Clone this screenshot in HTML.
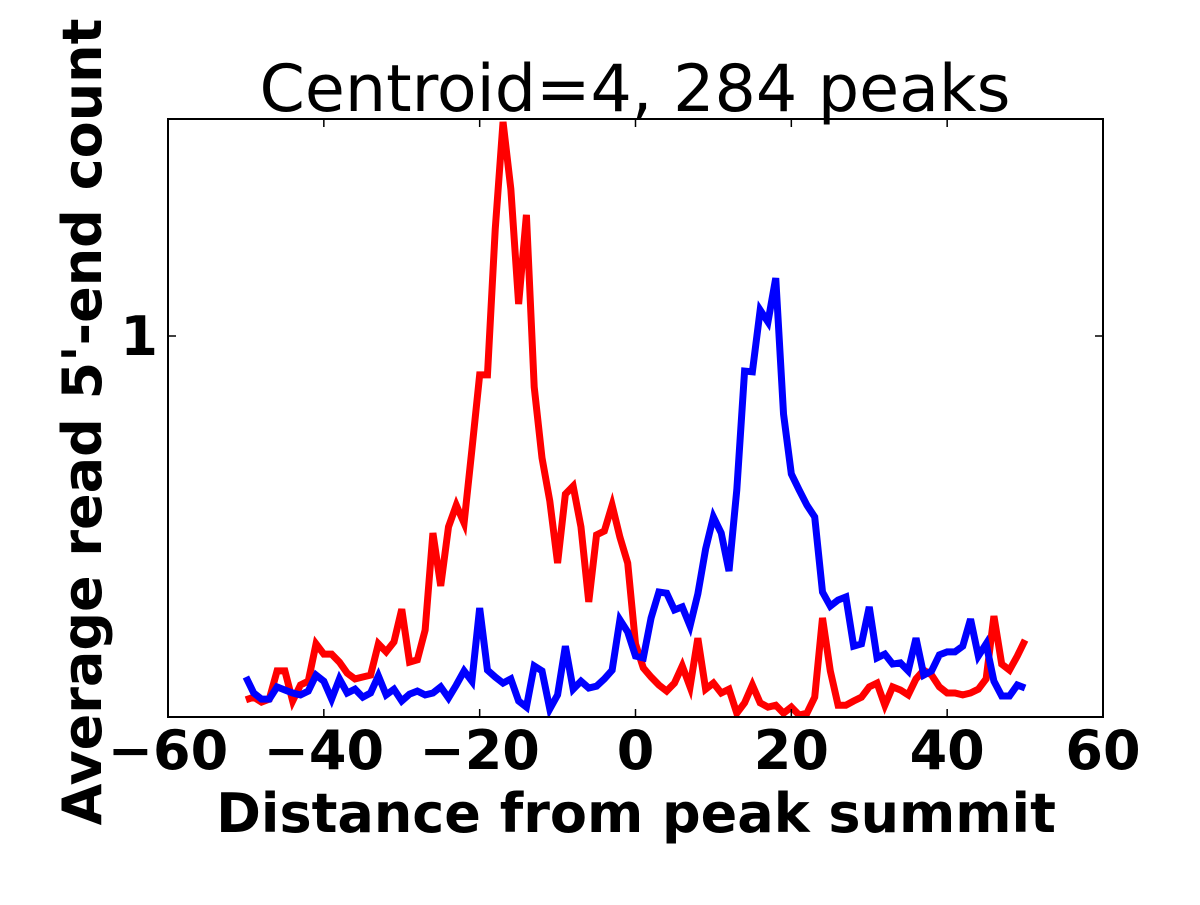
<!DOCTYPE html>
<html><head><meta charset="utf-8"><style>
body{margin:0;background:#fff;}
svg text{font-family:"DejaVu Sans","Liberation Sans",sans-serif;}
</style></head><body>
<svg id="chart" width="1200" height="900" xmlns="http://www.w3.org/2000/svg">
<rect width="1200" height="900" fill="#fff"/>
<text x="635" y="111" font-size="65" text-anchor="middle">Centroid=4, 284 peaks</text>
<defs><clipPath id="pc"><rect x="168" y="119" width="935" height="598"/></clipPath></defs>
<g id="lines" clip-path="url(#pc)"></g>
<rect x="168" y="119" width="935" height="598" fill="none" stroke="#000" stroke-width="2"/>
<g id="ticks"></g>
<text x="636" y="832" font-size="54" font-weight="bold" text-anchor="middle">Distance from peak summit</text>
<text transform="translate(101,422) rotate(-90)" font-size="54" font-weight="bold" text-anchor="middle">Average read 5'-end count</text>
</svg>
<script>
const xs = [];
for (let i = -50; i <= 50; i++) xs.push(i);
const redValues = [.045,.052,.039,.047,.121,.121,.042,.084,.094,.192,.165,.165,.144,.115,.100,.105,.110,.192,.171,.197,.283,.144,.150,.228,.483,.344,.499,.556,.509,.701,.898,.898,1.281,1.562,1.386,1.084,1.318,.866,.680,.567,.404,.585,.606,.499,.302,.478,.488,.556,.472,.404,.192,
.129,.105,.084,.068,.089,.134,.079,.207,.073,.089,.063,.073,.010,.037,.084,.037,.026,.031,.010,.026,.005,.010,.052,.260,.121,.031,.031,.042,.052,.079,.089,.031,.079,.071,.058,.100,.123,.110,.079,.063,.063,.058,.063,.073,.100,.265,.139,.123,.160,.202];
const blueValues = [.105,.063,.047,.047,.079,.071,.063,.058,.068,.110,.094,.047,.100,.063,.073,.052,.063,.108,.058,.073,.042,.060,.068,.058,.063,.079,.050,.084,.121,.094,.286,.123,.105,.089,.100,.042,.026,.134,.121,.021,.058,.186,.073,.094,.076,.081,.100,.123,.255,.223,.160,
.155,.260,.328,.325,.281,.289,.239,.323,.441,.525,.483,.383,.596,.908,.906,1.068,1.037,1.152,.795,.638,.596,.556,.525,.328,.291,.307,.315,.186,.192,.289,.155,.165,.139,.142,.121,.207,.110,.121,.163,.171,.171,.186,.257,.160,.192,.094,.055,.055,.084,.076];
const xTicks = [-60,-40,-20,0,20,40,60];
const xTickLabels = ["\u221260","\u221240","\u221220","0","20","40","60"];
const yTicks = [1];
const yTickLabels = ["1"];

const X0=168,X1=1103,Y0=717,Y1=119, xmin=-60,xmax=60,ymin=0,ymax=1.5696;
const sx=v=>X0+(v-xmin)/(xmax-xmin)*(X1-X0);
const sy=v=>Y0-(v-ymin)/(ymax-ymin)*(Y0-Y1);
const NS="http://www.w3.org/2000/svg";
const lines=document.getElementById('lines'), ticks=document.getElementById('ticks');
function series(vals,color,name){
  const p=document.createElementNS(NS,'polyline');
  p.setAttribute('points',xs.map((x,i)=>sx(x)+','+sy(vals[i])).join(' '));
  p.setAttribute('fill','none');p.setAttribute('stroke',color);p.setAttribute('stroke-width','7');
  p.setAttribute('stroke-linejoin','miter');
  
  
  lines.appendChild(p);
}
series(redValues,'#ff0000','red-series-line');
series(blueValues,'#0000ff','blue-series-line');
xTicks.forEach((t,i)=>{
  const x=sx(t);
  const l=document.createElementNS(NS,'path');
  l.setAttribute('d',`M${x},${Y0}v-8M${x},${Y1}v8`);l.setAttribute('stroke','#000');l.setAttribute('stroke-width','1.5');
  
  
  ticks.appendChild(l);
  const tx=document.createElementNS(NS,'text');
  tx.setAttribute('x',x);tx.setAttribute('y',769);tx.setAttribute('font-size','54');tx.setAttribute('font-weight','bold');tx.setAttribute('text-anchor','middle');
  tx.textContent=xTickLabels[i];
  
  
  ticks.appendChild(tx);
});
yTicks.forEach((t,i)=>{
  const y=sy(t);
  const l=document.createElementNS(NS,'path');
  l.setAttribute('d',`M${X0},${y}h8M${X1},${y}h-8`);l.setAttribute('stroke','#000');l.setAttribute('stroke-width','1.5');
  
  
  ticks.appendChild(l);
  const tx=document.createElementNS(NS,'text');
  tx.setAttribute('x',158);tx.setAttribute('y',y+19);tx.setAttribute('font-size','54');tx.setAttribute('font-weight','bold');tx.setAttribute('text-anchor','end');
  tx.textContent=yTickLabels[i];
  
  
  ticks.appendChild(tx);
});
</script>
</body></html>
